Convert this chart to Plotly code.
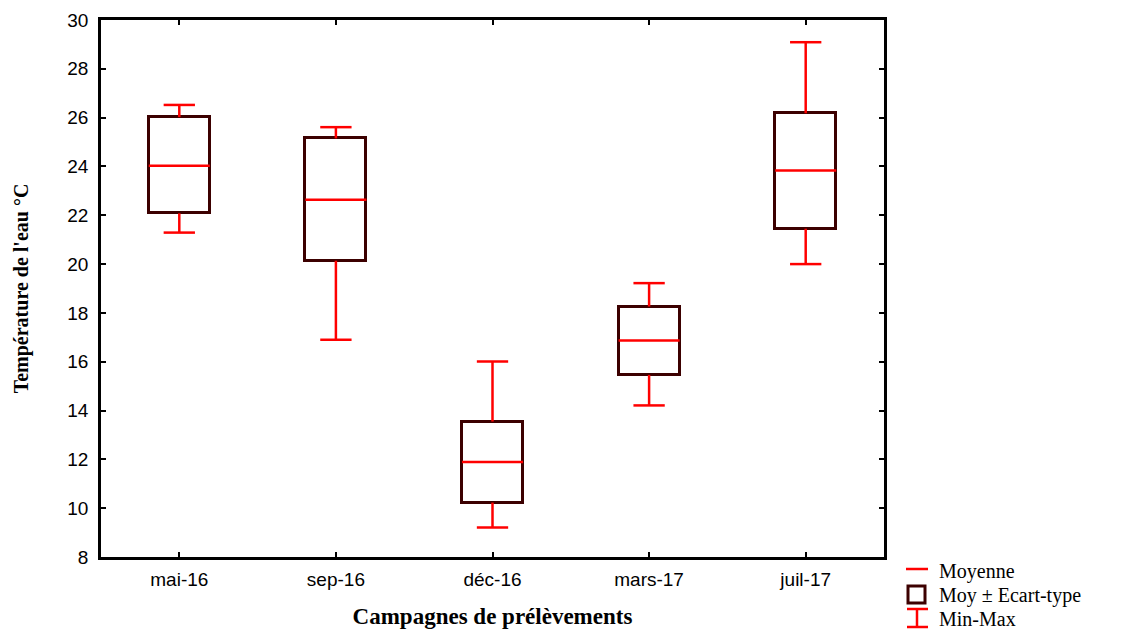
import plotly.graph_objects as go

# ---- data ----
categories = ["mai-16", "sep-16", "déc-16", "mars-17", "juil-17"]
moyenne = [24.03, 22.64, 11.89, 16.87, 23.83]
moy_plus_sd = [26.02, 25.15, 13.55, 18.26, 26.18]
moy_minus_sd = [22.08, 20.14, 10.23, 15.46, 21.45]
val_max = [26.52, 25.61, 16.01, 19.22, 29.09]
val_min = [21.29, 16.90, 9.21, 14.21, 20.00]
y_ticks = [8, 10, 12, 14, 16, 18, 20, 22, 24, 26, 28, 30]

RED = "#FF0000"
BROWN = "#3C0000"
BOX_W = 0.39
CAP_HALF = 0.10

W, H = 1126, 631
ML, MR, MT, MB = 101, 242, 20, 74

xs = list(range(len(categories)))

fig = go.Figure()

# boxes: mean +/- standard deviation
fig.add_trace(go.Bar(
    x=xs,
    base=moy_minus_sd,
    y=[hi - lo for hi, lo in zip(moy_plus_sd, moy_minus_sd)],
    width=BOX_W,
    marker=dict(color="white", line=dict(color=BROWN, width=3)),
    showlegend=False, hoverinfo="skip",
))

# whiskers (min-max), drawn outside the boxes
wx, wy = [], []
for x, lo, hi, mn, mx in zip(xs, moy_minus_sd, moy_plus_sd, val_min, val_max):
    wx += [x, x, None, x - CAP_HALF, x + CAP_HALF, None,
           x, x, None, x - CAP_HALF, x + CAP_HALF, None]
    wy += [hi, mx, None, mx, mx, None,
           lo, mn, None, mn, mn, None]
fig.add_trace(go.Scatter(x=wx, y=wy, mode="lines",
                         line=dict(color=RED, width=2.5),
                         showlegend=False, hoverinfo="skip"))

# mean lines
mx_, my_ = [], []
for x, m in zip(xs, moyenne):
    mx_ += [x - BOX_W / 2, x + BOX_W / 2, None]
    my_ += [m, m, None]
fig.add_trace(go.Scatter(x=mx_, y=my_, mode="lines",
                         line=dict(color=RED, width=2.5),
                         showlegend=False, hoverinfo="skip"))

axis_common = dict(
    showline=True, linecolor="black", linewidth=2.5, mirror="ticks",
    ticks="inside", ticklen=5, tickwidth=2, tickcolor="black",
    showgrid=False, zeroline=False, automargin=False,
    tickfont=dict(family="Liberation Sans, Arial", size=19, color="black"),
)

fig.update_layout(
    width=W, height=H,
    margin=dict(l=ML, r=MR, t=MT, b=MB, autoexpand=False),
    paper_bgcolor="white", plot_bgcolor="white",
    bargap=0,
    xaxis=dict(range=[-0.5, len(categories) - 0.5], tickvals=xs,
               ticktext=categories, ticklabelstandoff=3,
               title=dict(text="<b>Campagnes de prélèvements</b>",
                          font=dict(family="Liberation Serif, Times New Roman", size=23, color="black"),
                          standoff=20),
               **axis_common),
    yaxis=dict(range=[8, 30], tickvals=y_ticks, ticklabelstandoff=6,
               title=dict(text="<b>Température de l'eau °C</b>",
                          font=dict(family="Liberation Serif, Times New Roman", size=20, color="black"),
                          standoff=34),
               **axis_common),
    showlegend=False,
)

# ---- manual legend (pixel positions converted to paper coords) ----
def px(x):
    return (x - ML) / (W - ML - MR)

def py(y):
    return (H - MB - y) / (H - MT - MB)

shapes = [
    dict(type="line", xref="paper", yref="paper",
         x0=px(906), x1=px(928), y0=py(569), y1=py(569),
         line=dict(color=RED, width=2.5)),
    dict(type="rect", xref="paper", yref="paper",
         x0=px(908), x1=px(925), y0=py(586), y1=py(603),
         line=dict(color=BROWN, width=3), fillcolor="white"),
    dict(type="line", xref="paper", yref="paper",
         x0=px(917), x1=px(917), y0=py(609), y1=py(627),
         line=dict(color=RED, width=2.5)),
    dict(type="line", xref="paper", yref="paper",
         x0=px(907), x1=px(928), y0=py(609), y1=py(609),
         line=dict(color=RED, width=2.5)),
    dict(type="line", xref="paper", yref="paper",
         x0=px(907), x1=px(928), y0=py(627), y1=py(627),
         line=dict(color=RED, width=2.5)),
]
legend_labels = ["Moyenne", "Moy ± Ecart-type", "Min-Max"]
legend_y = [571, 595, 619]
annotations = [
    dict(text=t, xref="paper", yref="paper", x=px(937), y=py(yy),
         xanchor="left", yanchor="middle", showarrow=False,
         font=dict(family="Liberation Serif, Times New Roman", size=20, color="black"))
    for t, yy in zip(legend_labels, legend_y)
]
fig.update_layout(shapes=shapes, annotations=annotations)

fig.write_html("out.html")
